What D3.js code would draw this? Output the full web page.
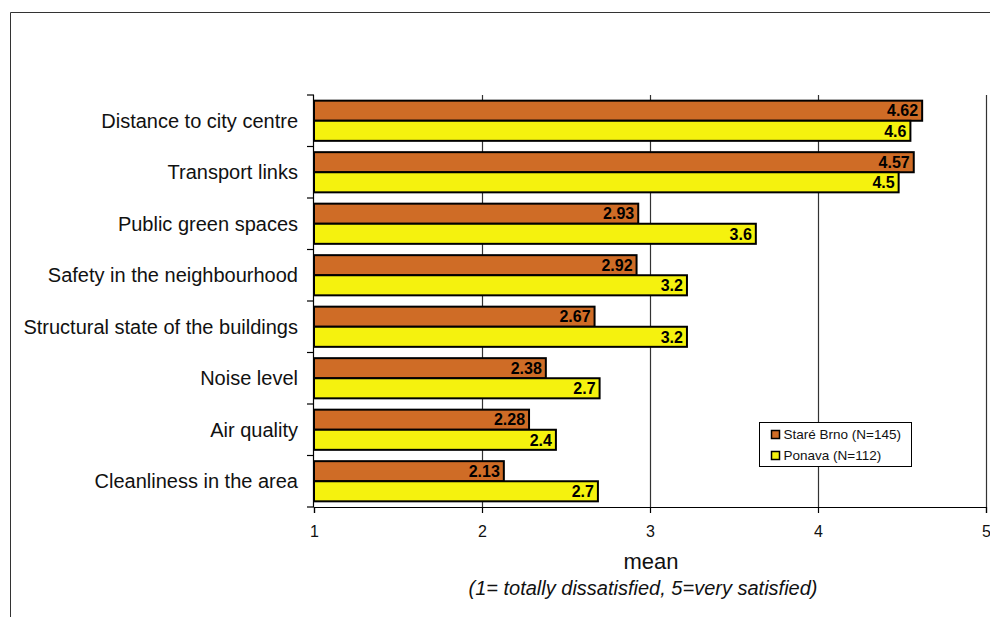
<!DOCTYPE html>
<html>
<head>
<meta charset="utf-8">
<script src="https://cdn.jsdelivr.net/npm/d3@7"></script>
<style>
  body { margin: 0; background: #fff; }
  text { font-family: "Liberation Sans", Arial, sans-serif; }
</style>
</head>
<body>
<script>
// data
var categories = ["Distance to city centre", "Transport links", "Public green spaces",
  "Safety in the neighbourhood", "Structural state of the buildings", "Noise level",
  "Air quality", "Cleanliness in the area"];
var series = ["Staré Brno (N=145)", "Ponava (N=112)"];
var stareBrno = [4.62, 4.57, 2.93, 2.92, 2.67, 2.38, 2.28, 2.13];
var stareBrnoLabels = ["4.62", "4.57", "2.93", "2.92", "2.67", "2.38", "2.28", "2.13"];
var ponava = [4.55, 4.48, 3.63, 3.22, 3.22, 2.70, 2.44, 2.69];
var ponavaLabels = ["4.6", "4.5", "3.6", "3.2", "3.2", "2.7", "2.4", "2.7"];
var xTicks = [1, 2, 3, 4, 5];

var colors = ["#CF6C26", "#F5F20E"];

var width = 990, height = 617;
var svg = d3.select("body").append("svg")
  .attr("width", width).attr("height", height);

// outer frame (only top and left visible)
svg.append("path")
  .attr("d", "M10.5,617 L10.5,12.5 L990,12.5")
  .attr("fill", "none").attr("stroke", "#333").attr("stroke-width", 1);

var x = d3.scaleLinear().domain([1, 5]).range([314, 986]);
var y = d3.scaleBand().domain(categories).range([95, 507])
  .paddingInner(0.22).paddingOuter(0.11);
var sub = d3.scaleBand().domain([0, 1]).range([0, y.bandwidth()]);

// gridlines
svg.selectAll("line.grid").data(xTicks.slice(1)).enter().append("line")
  .attr("class", "grid")
  .attr("x1", function(d){ return x(d) + 0.5; }).attr("x2", function(d){ return x(d) + 0.5; })
  .attr("y1", 95).attr("y2", 507)
  .attr("stroke", "#333").attr("stroke-width", 1.2);

// bars
var rows = categories.map(function(c, i){
  return [
    {cat: c, s: 0, v: stareBrno[i], label: stareBrnoLabels[i]},
    {cat: c, s: 1, v: ponava[i], label: ponavaLabels[i]}
  ];
});

var groups = svg.selectAll("g.row").data(rows).enter().append("g")
  .attr("class", "row")
  .attr("transform", function(d){ return "translate(0," + y(d[0].cat) + ")"; });

groups.selectAll("rect").data(function(d){ return d; }).enter().append("rect")
  .attr("x", x(1))
  .attr("y", function(d){ return sub(d.s); })
  .attr("width", function(d){ return x(d.v) - x(1); })
  .attr("height", sub.bandwidth())
  .attr("fill", function(d){ return colors[d.s]; })
  .attr("stroke", "#000").attr("stroke-width", 2);

groups.selectAll("text").data(function(d){ return d; }).enter().append("text")
  .attr("x", function(d){ return x(d.v) - 4; })
  .attr("y", function(d){ return sub(d.s) + sub.bandwidth() / 2; })
  .attr("dy", "0.36em")
  .attr("text-anchor", "end")
  .attr("font-size", 16).attr("font-weight", "bold")
  .text(function(d){ return d.label; });

// left axis
var step = y.step();
var leftAxis = svg.append("g");
leftAxis.append("line")
  .attr("x1", 313.5).attr("x2", 313.5).attr("y1", 95).attr("y2", 507)
  .attr("stroke", "#000").attr("stroke-width", 1.2);
leftAxis.selectAll("line.tick").data(d3.range(categories.length + 1)).enter().append("line")
  .attr("class", "tick")
  .attr("x1", 307).attr("x2", 314)
  .attr("y1", function(i){ return 95 + i * step; })
  .attr("y2", function(i){ return 95 + i * step; })
  .attr("stroke", "#000").attr("stroke-width", 1.2);
leftAxis.selectAll("text").data(categories).enter().append("text")
  .attr("x", 298)
  .attr("y", function(d){ return y(d) + y.bandwidth() / 2; })
  .attr("dy", "0.35em")
  .attr("text-anchor", "end")
  .attr("font-size", 20).attr("fill", "#111")
  .text(function(d){ return d; });

// bottom axis
var xAxis = d3.axisBottom(x).tickValues(xTicks).tickSize(6).tickPadding(13)
  .tickFormat(d3.format("d"));
var gx = svg.append("g").attr("transform", "translate(0,507)").call(xAxis);
gx.select(".domain").attr("stroke", "#000").attr("stroke-width", 1.2);
gx.selectAll(".tick line").attr("stroke", "#000").attr("stroke-width", 1.2);
gx.selectAll(".tick text").attr("font-size", 16).attr("fill", "#111")
  .attr("font-family", "'Liberation Sans', Arial, sans-serif");

svg.append("text")
  .attr("x", 651).attr("y", 569)
  .attr("text-anchor", "middle").attr("font-size", 22).attr("fill", "#111")
  .text("mean");
svg.append("text")
  .attr("x", 643).attr("y", 595)
  .attr("text-anchor", "middle").attr("font-size", 20).attr("font-style", "italic")
  .attr("fill", "#111")
  .text("(1= totally dissatisfied, 5=very satisfied)");

// legend
var legend = svg.append("g").attr("transform", "translate(759.5,422.5)");
legend.append("rect")
  .attr("width", 152).attr("height", 44)
  .attr("fill", "#fff").attr("stroke", "#000").attr("stroke-width", 1);
var li = legend.selectAll("g").data(series).enter().append("g")
  .attr("transform", function(d, i){ return "translate(12," + (8 + i * 21) + ")"; });
li.append("rect")
  .attr("width", 8).attr("height", 8)
  .attr("fill", function(d, i){ return colors[i]; })
  .attr("stroke", "#000").attr("stroke-width", 1.5);
li.append("text")
  .attr("x", 12).attr("y", 4).attr("dy", "0.35em")
  .attr("font-size", 13.5).attr("fill", "#111")
  .text(function(d){ return d; });
</script>
</body>
</html>
